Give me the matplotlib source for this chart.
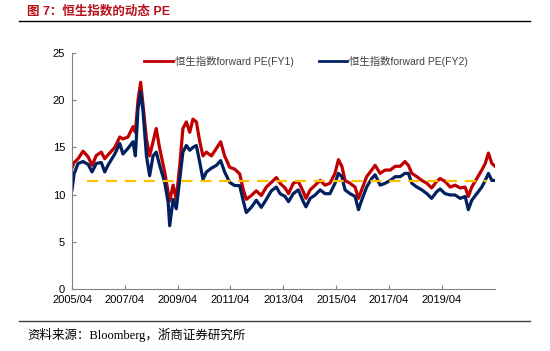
import matplotlib
matplotlib.use("Agg")
import matplotlib.pyplot as plt
from matplotlib.lines import Line2D

plt.rcParams['font.family'] = ['Liberation Sans', 'Noto Sans CJK SC', 'DejaVu Sans']

# ---- data (dates as decimal years) ----
dates = [2005.25, 2005.33, 2005.48, 2005.67, 2005.86, 2006.01, 2006.17, 2006.36, 2006.49, 2006.61,
         2006.87, 2007.06, 2007.18, 2007.37, 2007.56, 2007.65, 2007.75, 2007.85, 2007.94, 2008.07,
         2008.19, 2008.32, 2008.44, 2008.57, 2008.76, 2008.89, 2008.95, 2009.08, 2009.20, 2009.33,
         2009.45, 2009.58, 2009.71, 2009.83, 2009.96, 2010.09, 2010.21, 2010.34, 2010.53, 2010.72,
         2010.88, 2011.03, 2011.22, 2011.41, 2011.60, 2011.73, 2011.85, 2012.04, 2012.23, 2012.42,
         2012.61, 2012.80, 2012.99,
         2013.13, 2013.32, 2013.45, 2013.63, 2013.82, 2014.01, 2014.11, 2014.27, 2014.46, 2014.65,
         2014.83, 2015.02, 2015.21, 2015.34, 2015.47, 2015.59, 2015.78, 2015.97, 2016.10, 2016.22,
         2016.41, 2016.60, 2016.73, 2016.92, 2017.11, 2017.30, 2017.49, 2017.68, 2017.86, 2017.99,
         2018.12, 2018.31, 2018.50, 2018.69, 2018.87, 2019.06, 2019.19, 2019.38, 2019.57, 2019.76,
         2019.95, 2020.14, 2020.26, 2020.39, 2020.58, 2020.77, 2020.90, 2021.02, 2021.15, 2021.27]

pe_fy1 = [12.8, 13.4, 13.8, 14.6, 14.0, 13.1, 14.15, 14.5, 13.8, 14.2,
          15.0, 16.1, 15.9, 16.1, 17.2, 16.6, 20.0, 21.9, 19.5, 15.9,
          14.1, 15.6, 17.0, 14.9, 12.4, 10.25, 9.3, 11.0, 9.5, 13.1,
          17.0, 17.7, 16.6, 18.0, 17.7, 15.6, 14.1, 14.5, 14.1, 14.9,
          15.6, 14.1, 12.9, 12.7, 12.2, 10.6, 9.5, 9.9, 10.4, 9.9,
          10.8, 11.3, 11.8,
          11.2, 10.7, 10.1, 11.2, 11.4, 10.3, 9.6, 10.5, 11.0, 11.5,
          11.0, 11.2, 12.25, 13.7, 13.0, 11.5, 11.2, 10.8, 9.6, 10.5,
          11.9, 12.6, 13.1, 12.25, 12.6, 12.6, 13.0, 13.0, 13.5, 13.1,
          12.25, 11.9, 11.5, 11.2, 10.7, 11.4, 11.7, 11.4, 10.8, 11.0,
          10.7, 10.8, 9.8, 10.8, 11.7, 12.6, 13.3, 14.4, 13.3, 13.0]

pe_fy2 = [10.5, 12.2, 13.3, 13.5, 13.2, 12.4, 13.3, 13.4, 12.4, 13.1,
          14.3, 15.4, 14.3, 14.9, 15.6, 14.1, 19.1, 20.9, 18.8, 14.1,
          12.0, 14.1, 14.5, 13.1, 11.3, 9.2, 6.7, 9.5, 8.5, 11.6,
          14.5, 15.2, 14.7, 15.0, 15.2, 13.4, 11.6, 12.4, 12.8, 13.1,
          13.6, 12.4, 11.3, 10.96, 10.96, 9.4, 8.1, 8.65, 9.4, 8.65,
          9.5, 10.4, 10.8,
          10.1, 9.8, 9.25, 10.1, 10.5, 9.25, 8.7, 9.6, 9.96, 10.5,
          10.1, 10.1, 11.2, 12.25, 11.9, 10.5, 10.1, 9.8, 8.4, 9.4,
          10.8, 11.7, 12.1, 11.0, 11.2, 11.5, 11.9, 11.9, 12.25, 12.25,
          11.2, 10.8, 10.5, 10.1, 9.6, 10.3, 10.6, 10.1, 9.96, 9.96,
          9.6, 9.8, 8.4, 9.4, 10.1, 10.8, 11.5, 12.25, 11.5, 11.5]

avg_start, avg_end, avg_value = 2005.80, 2020.95, 11.45

tick_years = [2005.25, 2007.25, 2009.25, 2011.25, 2013.25, 2015.25, 2017.25, 2019.25]
tick_labels = ['2005/04', '2007/04', '2009/04', '2011/04', '2013/04', '2015/04', '2017/04', '2019/04']
yticks = [0, 5, 10, 15, 20, 25]

title = '图 7：恒生指数的动态 PE'
source = '资料来源：Bloomberg，浙商证券研究所'
label1 = '恒生指数forward PE(FY1)'
label2 = '恒生指数forward PE(FY2)'

RED = '#C00000'
NAVY = '#002060'
GOLD = '#FFC000'

fig = plt.figure(figsize=(5.5, 3.51), dpi=100)
ax = fig.add_axes([72/550, 1-289/351, 423/550, 236/351])

ax.plot(dates, pe_fy1, color=RED, lw=2.3, label=label1)
ax.plot(dates, pe_fy2, color=NAVY, lw=2.3, label=label2)
ax.plot([avg_start, avg_end], [avg_value, avg_value], color=GOLD, lw=1.6,
        dashes=(5, 3.5))

ax.set_xlim(2005.25, 2021.27)
ax.set_ylim(0, 25)
ax.set_xticks(tick_years)
ax.set_xticklabels(tick_labels)
ax.set_yticks(yticks)
for s in ['top', 'right']:
    ax.spines[s].set_visible(False)
for s in ['left', 'bottom']:
    ax.spines[s].set_color('#808080')
    ax.spines[s].set_linewidth(0.8)
ax.tick_params(axis='both', direction='in', length=3, width=0.8, color='#808080',
               labelsize=8, labelcolor='black')
ax.tick_params(axis='x', pad=4)
ax.tick_params(axis='y', pad=5)

handles = [Line2D([], [], color=RED, lw=2.0), Line2D([], [], color=NAVY, lw=2.0)]
fig.legend(handles, [label1, label2], ncol=2, frameon=False, fontsize=7.5,
           loc='center', bbox_to_anchor=(306/550, 1-61/351),
           handlelength=2.7, handletextpad=0.2, columnspacing=2.4,
           labelcolor='#404040')

fig.text(27/550, 1-12/351, title, color='#B5121B', fontsize=9, fontweight='bold',
         va='center', ha='left')
fig.add_artist(Line2D([19/550, 530/550], [1-21/351, 1-21/351], color='black', lw=1.0))
fig.add_artist(Line2D([19/550, 530/550], [1-321/351, 1-321/351], color='#404040', lw=1.0))
fig.text(27/550, 1-335/351, source, fontsize=9, va='center', ha='left',
         family=['Liberation Serif', 'Noto Sans CJK SC'])

fig.savefig('out.png', dpi=100)
